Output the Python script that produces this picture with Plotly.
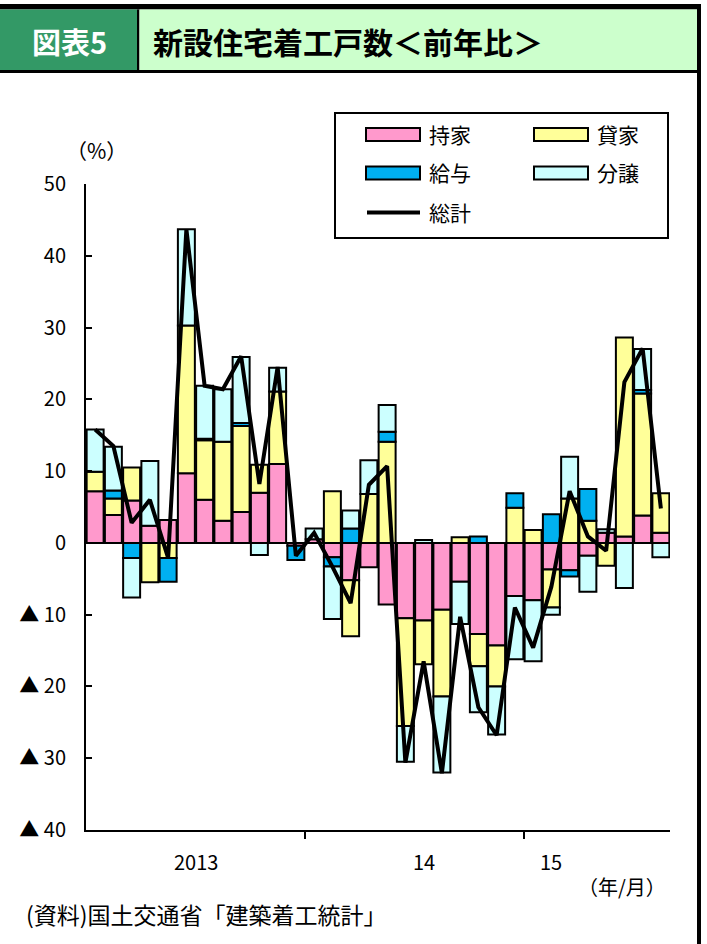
import plotly.graph_objects as go

# Monthly year-on-year change in housing starts (%), Jan 2013 - Aug 2015
months = [f"{y}-{m:02d}" for y in (2013, 2014, 2015) for m in range(1, 13)][:32]

owner = [7.2, 3.9, 5.9, 2.4, 3.2, 9.7, 6.0, 3.1, 4.3, 7.0, 11.0, -0.4,
         0.5, -2.0, -5.2, -3.4, -8.6, -10.5, -10.8, -9.3, -5.4, -12.7, -14.3, -7.4,
         -8.0, -3.7, -3.8, -1.8, 1.4, 0.9, 3.8, 1.4]
rental = [2.7, 2.3, 4.6, -5.5, -2.1, 20.6, 8.3, 11.0, 12.0, 3.9, 10.1, 0.0,
          0.0, 7.2, -7.8, 6.8, 14.1, -15.0, -6.1, -12.1, 0.8, -4.5, -5.7, 4.9,
          1.8, -5.3, 6.2, 3.1, -3.2, 27.7, 17.0, 5.5]
company = [0.0, 1.1, -2.1, 0.0, -3.3, 0.0, 0.2, 0.0, 0.4, 0.0, 0.0, -2.0,
           0.0, -1.3, 2.0, 0.0, 1.4, 0.0, 0.0, 0.0, 0.0, 0.9, 0.0, 2.0,
           0.0, 4.0, -0.9, 4.4, 0.0, 0.0, 0.5, 0.0]
for_sale = [5.9, 6.1, -5.5, 9.0, 0.0, 13.4, 7.4, 7.3, 9.2, -1.7, 3.3, 0.0,
            1.5, -7.3, 2.5, 4.7, 3.7, -5.0, 0.4, -10.6, -5.9, -6.4, -6.7, -8.8,
            -8.5, -1.0, 5.8, -5.0, 0.5, -6.3, 5.7, -2.0]
total = [15.8, 13.5, 2.8, 6.0, -2.1, 43.7, 21.9, 21.4, 26.0, 8.2, 24.5, -1.8,
         1.4, -3.3, -8.4, 8.1, 10.7, -30.6, -16.5, -32.1, -10.3, -22.9, -26.8, -9.0,
         -14.6, -6.1, 7.2, 0.9, -1.1, 22.4, 27.1, 4.8]

series_names = ["持家", "貸家", "給与", "分譲"]
series_colors = ["#FF99CC", "#FFFF99", "#00B0F0", "#CCFFFF"]
series_values = [owner, rental, company, for_sale]

y_ticks = [50, 40, 30, 20, 10, 0, -10, -20, -30, -40]
y_ticktext = [str(v) if v >= 0 else f"▲ {abs(v)}" for v in y_ticks]
year_label_pos = [5.5, 18, 25]
year_labels = ["2013", "14", "15"]
year_breaks = [11.5, 23.5]

W, H = 707, 944
L, R, T, B = 86, 670, 184, 830
FONT = "Noto Sans CJK JP, Noto Sans, sans-serif"


def px(x):
    return (x - L) / (R - L)


def py(y):
    return (B - y) / (B - T)


xs = list(range(len(months)))
fig = go.Figure()
for name, color, vals in zip(series_names, series_colors, series_values):
    fig.add_trace(go.Bar(
        x=xs, y=[v if v != 0 else None for v in vals], name=name,
        marker=dict(color=color, line=dict(color="black", width=2)),
        showlegend=False,
    ))
fig.add_trace(go.Scatter(
    x=xs, y=total, name="総計", mode="lines",
    line=dict(color="black", width=4), showlegend=False,
))

shapes = []
annotations = []


def rect(x0, y0, x1, y1, fill, line_w=0, line_c="black"):
    shapes.append(dict(type="rect", xref="paper", yref="paper",
                       x0=px(x0), x1=px(x1), y0=py(y0), y1=py(y1),
                       fillcolor=fill, line=dict(width=line_w, color=line_c),
                       layer="above"))


def text(x, y, s, size, color="black", xanchor="left", bold=False, family=FONT):
    annotations.append(dict(xref="paper", yref="paper", x=px(x), y=py(y),
                            text=f"<b>{s}</b>" if bold else s, showarrow=False,
                            xanchor=xanchor, yanchor="middle",
                            font=dict(size=size, color=color, family=family)))


# header banner
rect(0, 4, 701, 9.5, "black")
rect(0, 9.5, 137, 70, "#339966")
rect(137, 9.5, 139.5, 70, "black")
rect(139.5, 9.5, 697, 70, "#CCFFCC")
rect(0, 70, 701, 73, "black")
rect(697, 4, 701, 944, "black")
text(69, 41, "図表5", 29, color="white", xanchor="center", bold=True)
text(151, 41, "新設住宅着工戸数＜前年比＞", 30, bold=True)

# legend box
rect(335, 113, 668, 238, "white", line_w=2)
legend_items = [
    (366, 134.5, 0, 427),
    (534, 134.5, 1, 595),
    (366, 173, 2, 427),
    (534, 173, 3, 595),
]
for sx, sy, idx, tx in legend_items:
    rect(sx, sy - 6.5, sx + 54, sy + 6.5, series_colors[idx], line_w=2)
    text(tx, sy - 1, series_names[idx], 21)
shapes.append(dict(type="line", xref="paper", yref="paper",
                   x0=px(367), x1=px(420), y0=py(212.5), y1=py(212.5),
                   line=dict(color="black", width=4), layer="above"))
text(427, 212, "総計", 21)

# axis captions and source
text(64, 150, "（%）", 21, xanchor="left")
text(668, 887, "（年/月）", 20, xanchor="right")
text(24, 914, "(資料)国土交通省「建築着工統計」", 23)

for pos, lab in zip(year_label_pos, year_labels):
    annotations.append(dict(xref="x", yref="paper", x=pos, y=py(861),
                            text=lab, showarrow=False, xanchor="center",
                            yanchor="middle",
                            font=dict(size=20, color="black", family=FONT)))

fig.update_layout(
    width=W, height=H,
    margin=dict(l=L, r=W - R, t=T, b=H - B),
    paper_bgcolor="white", plot_bgcolor="white",
    barmode="relative", bargap=0.07,
    shapes=shapes, annotations=annotations,
    font=dict(family=FONT, color="black"),
    showlegend=False,
)
fig.update_xaxes(
    range=[-0.5, len(months) - 0.5], showgrid=False, zeroline=False,
    showline=True, linecolor="black", linewidth=2,
    tickvals=year_breaks, ticks="outside", ticklen=7, tickwidth=2,
    tickcolor="black", showticklabels=False,
)
fig.update_yaxes(
    range=[-40, 50], showgrid=False, zeroline=False,
    showline=True, linecolor="black", linewidth=2,
    tickvals=y_ticks, ticktext=y_ticktext, ticks="inside", ticklen=6,
    tickwidth=2, tickcolor="black", ticklabelstandoff=14,
    tickfont=dict(size=20, family=FONT, color="black"),
)

fig.write_html("out.html")
